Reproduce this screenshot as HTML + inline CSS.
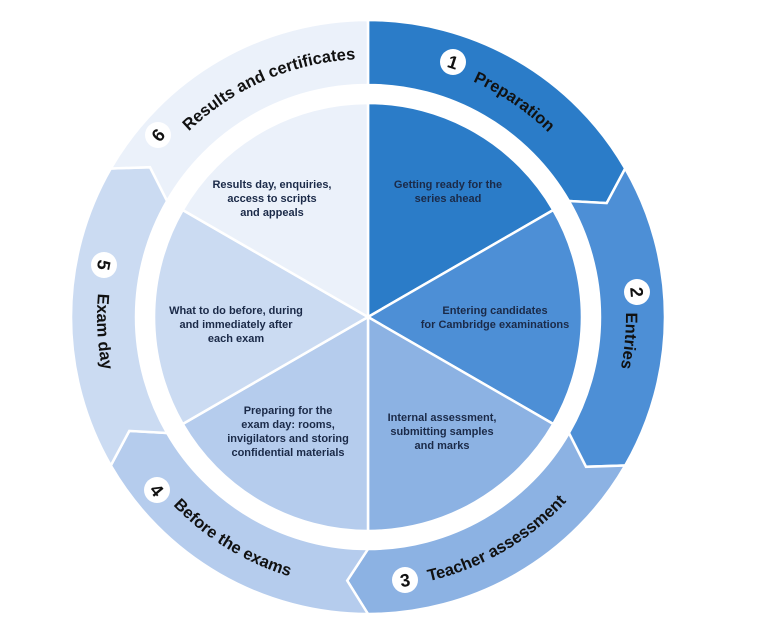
<!DOCTYPE html>
<html><head><meta charset="utf-8"><style>
html,body{margin:0;padding:0;background:#fff;width:782px;height:642px;overflow:hidden}
svg{display:block}
.lbl{font-family:"Liberation Sans",Arial,sans-serif;font-weight:bold;font-size:16.5px;fill:#111}
.num{font-family:"Liberation Sans",Arial,sans-serif;font-weight:bold;font-size:18px;fill:#111}
.pt{font-family:"Liberation Sans",Arial,sans-serif;font-weight:bold;font-size:11px;fill:#1b2a48}
</style></head><body>
<svg width="782" height="642" viewBox="0 0 782 642" xmlns="http://www.w3.org/2000/svg">
<defs>
<path id="t1" d="M472.9,81.3 A258,258 0 0 1 610.4,228.8"/>
<path id="t2" d="M625.9,312.5 A258,258 0 0 1 591.4,446"/>
<path id="t3" d="M429,581.1 A271,271 0 0 0 602.7,452.5"/>
<path id="t4" d="M173.1,505.3 A271,271 0 0 0 368,588"/>
<path id="t5" d="M98,293.4 A271,271 0 0 0 133.3,452.5"/>
<path id="t6" d="M188.8,131.4 A258,258 0 0 1 390.5,60"/>
</defs>
<g stroke="#fff" stroke-width="2.5" stroke-linejoin="miter">
<path fill="#2b7cc8" d="M368,20 A297,297 0 0 1 625.2,168.5 L606.7,203.1 L568.9,201 A232,232 0 0 0 368,85 Z"/>
<path fill="#4d8fd6" d="M625.2,168.5 A297,297 0 0 1 625.2,465.5 L586,466.8 L568.9,433 A232,232 0 0 0 568.9,201 L606.7,203.1 Z"/>
<path fill="#8cb2e3" d="M625.2,465.5 A297,297 0 0 1 368,614 L347.2,580.7 L368,549 A232,232 0 0 0 568.9,433 L586,466.8 Z"/>
<path fill="#b5cced" d="M368,614 A297,297 0 0 1 110.8,465.5 L129.3,430.9 L167.1,433 A232,232 0 0 0 368,549 L347.2,580.7 Z"/>
<path fill="#cbdbf2" d="M110.8,465.5 A297,297 0 0 1 110.8,168.5 L150,167.2 L167.1,201 A232,232 0 0 0 167.1,433 L129.3,430.9 Z"/>
<path fill="#ebf1fa" d="M110.8,168.5 A297,297 0 0 1 368,20 L368,85 A232,232 0 0 0 167.1,201 L150,167.2 Z"/>

<path fill="#2b7cc8" d="M368,317 L368,103 A214,214 0 0 1 553.3,210 Z"/>
<path fill="#4d8fd6" d="M368,317 L553.3,210 A214,214 0 0 1 553.3,424 Z"/>
<path fill="#8cb2e3" d="M368,317 L553.3,424 A214,214 0 0 1 368,531 Z"/>
<path fill="#b5cced" d="M368,317 L368,531 A214,214 0 0 1 182.7,424 Z"/>
<path fill="#cbdbf2" d="M368,317 L182.7,424 A214,214 0 0 1 182.7,210 Z"/>
<path fill="#ebf1fa" d="M368,317 L182.7,210 A214,214 0 0 1 368,103 Z"/>
</g>

<text class="lbl"><textPath href="#t1">Preparation</textPath></text>
<text class="lbl"><textPath href="#t2">Entries</textPath></text>
<text class="lbl"><textPath href="#t3">Teacher assessment</textPath></text>
<text class="lbl"><textPath href="#t4">Before the exams</textPath></text>
<text class="lbl"><textPath href="#t5">Exam day</textPath></text>
<text class="lbl"><textPath href="#t6">Results and certificates</textPath></text>

<g fill="#fff">
<circle cx="453" cy="62" r="13"/><circle cx="637" cy="292" r="13"/><circle cx="405" cy="580" r="13"/>
<circle cx="157" cy="490" r="13"/><circle cx="104" cy="265" r="13"/><circle cx="158" cy="135" r="13"/>
</g>
<g class="num" text-anchor="middle">
<text transform="translate(453,62) rotate(18)" y="6.5">1</text>
<text transform="translate(637,292) rotate(85)" y="6.5">2</text>
<text transform="translate(405,580) rotate(-8)" y="6.5">3</text>
<text transform="translate(157,490) rotate(50)" y="6.5">4</text>
<text transform="translate(104,265) rotate(101)" y="6.5">5</text>
<text transform="translate(158,135) rotate(-49)" y="6.5">6</text>
</g>

<g class="pt" text-anchor="middle">
<text x="448" y="188">Getting ready for the</text>
<text x="448" y="202">series ahead</text>
<text x="495" y="314">Entering candidates</text>
<text x="495" y="328">for Cambridge examinations</text>
<text x="442" y="421">Internal assessment,</text>
<text x="442" y="435">submitting samples</text>
<text x="442" y="449">and marks</text>
<text x="288" y="414">Preparing for the</text>
<text x="288" y="428">exam day: rooms,</text>
<text x="288" y="442">invigilators and storing</text>
<text x="288" y="456">confidential materials</text>
<text x="236" y="314">What to do before, during</text>
<text x="236" y="328">and immediately after</text>
<text x="236" y="342">each exam</text>
<text x="272" y="188">Results day, enquiries,</text>
<text x="272" y="202">access to scripts</text>
<text x="272" y="216">and appeals</text>
</g>
</svg>
</body></html>
